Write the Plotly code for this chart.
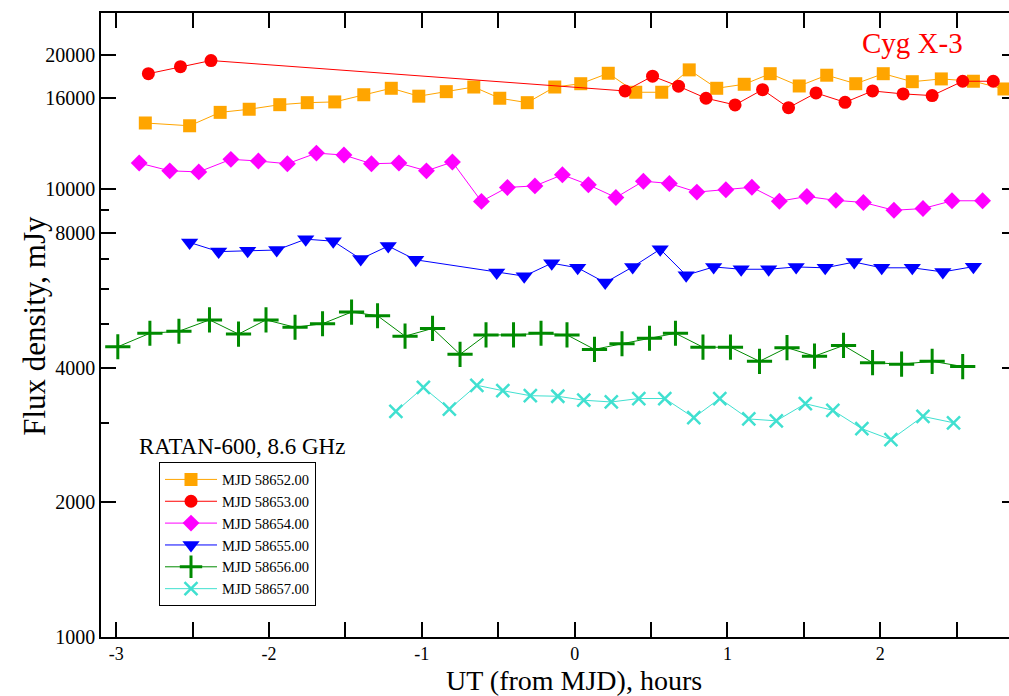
import plotly.graph_objects as go

# ---- data ----
x_58652 = [-2.81, -2.52, -2.32, -2.13, -1.93, -1.75, -1.57, -1.38, -1.20, -1.02, -0.84, -0.66, -0.49, -0.31, -0.13,
           0.04, 0.22, 0.40, 0.57, 0.75, 0.93, 1.11, 1.28, 1.47, 1.65, 1.84, 2.02, 2.21, 2.40, 2.61, 2.81]
y_58652 = [14070, 13870, 14860, 15100, 15460, 15620, 15680, 16270, 16820, 16150, 16530, 16930, 15980, 15620, 16930,
           17220, 18170, 16480, 16480, 18490, 16820, 17170, 18130, 17020, 17990, 17220, 18130, 17400, 17650, 17440, 16760]

x_58653 = [-2.79, -2.58, -2.38, 0.33, 0.51, 0.68, 0.86, 1.05, 1.23, 1.40, 1.58, 1.77, 1.95, 2.15, 2.34, 2.54, 2.74]
y_58653 = [18130, 18800, 19400, 16590, 17900, 17000, 15980, 15440, 16700, 15220, 16420, 15650, 16590, 16340, 16200,
           17440, 17440]

x_58654 = [-2.85, -2.65, -2.46, -2.25, -2.07, -1.88, -1.69, -1.51, -1.33, -1.15, -0.97, -0.80, -0.61, -0.44, -0.26,
           -0.08, 0.09, 0.27, 0.45, 0.62, 0.80, 0.99, 1.16, 1.34, 1.52, 1.71, 1.89, 2.09, 2.28, 2.47, 2.67]
y_58654 = [11450, 11000, 10940, 11670, 11570, 11410, 12050, 11930, 11410, 11450, 11000, 11510, 9400, 10100, 10180,
           10780, 10240, 9590, 10430, 10310, 9860, 9980, 10110, 9410, 9640, 9450, 9350, 8980, 9060, 9430, 9430]

x_58655 = [-2.52, -2.33, -2.14, -1.95, -1.76, -1.58, -1.40, -1.22, -1.04, -0.51, -0.33, -0.15, 0.02, 0.20, 0.38,
           0.56, 0.73, 0.91, 1.09, 1.27, 1.45, 1.64, 1.83, 2.01, 2.21, 2.41, 2.61]
y_58655 = [7610, 7260, 7290, 7320, 7740, 7660, 6990, 7470, 6960, 6520, 6400, 6840, 6680, 6190, 6710,
           7350, 6430, 6710, 6630, 6630, 6710, 6680, 6880, 6680, 6680, 6540, 6720]

x_58656 = [-2.99, -2.78, -2.59, -2.39, -2.20, -2.02, -1.83, -1.65, -1.46, -1.29, -1.11, -0.93, -0.75, -0.58, -0.40,
           -0.22, -0.05, 0.13, 0.31, 0.49, 0.66, 0.84, 1.02, 1.21, 1.39, 1.57, 1.76, 1.95, 2.14, 2.34, 2.54]
y_58656 = [4450, 4770, 4820, 5110, 4750, 5110, 4920, 5010, 5320, 5220, 4700, 4890, 4280, 4730, 4730,
           4770, 4730, 4390, 4520, 4650, 4770, 4440, 4440, 4130, 4430, 4240, 4480, 4100, 4070, 4130, 4020]

x_58657 = [-1.17, -0.99, -0.82, -0.64, -0.47, -0.29, -0.11, 0.06, 0.24, 0.42, 0.59, 0.78, 0.95, 1.14, 1.32,
           1.51, 1.69, 1.88, 2.07, 2.28, 2.48]
y_58657 = [3190, 3610, 3230, 3650, 3550, 3460, 3450, 3380, 3350, 3410, 3410, 3090, 3410, 3070, 3040,
           3320, 3210, 2920, 2760, 3110, 3010]

y_tickvals = [1000, 2000, 4000, 8000, 10000, 16000, 20000]
y_minor = [3000, 5000, 6000, 7000, 9000]
x_tickvals = [-3, -2, -1, 0, 1, 2]
x_minor = [-2.5, -1.5, -0.5, 0.5, 1.5, 2.5]

FONT = "Liberation Serif"

series = [
    ("MJD 58652.00", x_58652, y_58652, "#FFA500", dict(symbol="square", size=13)),
    ("MJD 58653.00", x_58653, y_58653, "#FF0000", dict(symbol="circle", size=13)),
    ("MJD 58654.00", x_58654, y_58654, "#FF00FF", dict(symbol="diamond", size=13)),
    ("MJD 58655.00", x_58655, y_58655, "#0000FF", dict(symbol="triangle-down", size=15)),
    ("MJD 58656.00", x_58656, y_58656, "#008A00", dict(symbol="cross-thin", size=18, line=dict(width=3, color="#008A00"))),
    ("MJD 58657.00", x_58657, y_58657, "#40E0D0", dict(symbol="x-thin", size=13, line=dict(width=2.5, color="#40E0D0"))),
]

fig = go.Figure()
for name, xs, ys, col, mk in series:
    m = dict(color=col)
    m.update(mk)
    fig.add_trace(go.Scatter(x=xs, y=ys, mode="lines+markers", name=name,
                             line=dict(color=col, width=1), marker=m))

# dummy trace for right-side tick axis
fig.add_trace(go.Scatter(x=[None], y=[None], yaxis="y2", showlegend=False, hoverinfo="skip"))

PLOT_L, PLOT_W, PLOT_B, PLOT_H = 101, 908, 637.3, 624.3

def px(xp):
    return (xp - PLOT_L) / PLOT_W

def py(yp):
    return (PLOT_B - yp) / PLOT_H

minor_style = dict(ticks="inside", ticklen=8, tickwidth=1.5, tickcolor="black", showgrid=False)

fig.update_layout(
    width=1009, height=696,
    margin=dict(l=101, r=0, t=13, b=59),
    paper_bgcolor="white", plot_bgcolor="white",
    font=dict(family=FONT, color="black", size=20),
    showlegend=True,
    legend=dict(x=px(159), y=py(462.7), xanchor="left", yanchor="top",
                bgcolor="white", bordercolor="black", borderwidth=1,
                font=dict(family=FONT, size=14.5, color="black"),
                itemwidth=52, tracegroupgap=0),
    xaxis=dict(range=[-3.1, 2.843], showgrid=False, zeroline=False,
               showline=True, linecolor="black", linewidth=1.5, mirror="allticks",
               ticks="inside", ticklen=15, tickwidth=1.5, tickcolor="black",
               tickmode="array", tickvals=x_tickvals, ticktext=[str(v) for v in x_tickvals],
               tickfont=dict(family=FONT, size=18),
               minor=dict(tickmode="array", tickvals=x_minor, **minor_style)),
    yaxis=dict(type="log", range=[3, 4.394], showgrid=False, zeroline=False,
               showline=True, linecolor="black", linewidth=1.5, mirror=False,
               ticks="inside", ticklen=15, tickwidth=1.5, tickcolor="black",
               tickmode="array", tickvals=y_tickvals, ticktext=[str(v) for v in y_tickvals],
               tickfont=dict(family=FONT, size=20),
               minor=dict(tickmode="array", tickvals=y_minor, **minor_style)),
    yaxis2=dict(type="log", range=[3, 4.394], overlaying="y", side="right", showgrid=False,
                zeroline=False, showline=False, ticks="inside", ticklen=7, tickwidth=1.5,
                tickcolor="black", tickmode="array", tickvals=y_tickvals, showticklabels=False),
)

# axis titles as annotations for precise placement
fig.add_annotation(text="UT (from MJD), hours", xref="paper", yref="paper",
                   x=px(574), y=py(698), xanchor="center", yanchor="bottom",
                   showarrow=False, font=dict(family=FONT, size=28, color="black"))
fig.add_annotation(text="Flux density, mJy", xref="paper", yref="paper",
                   x=px(35), y=py(326), xanchor="center", yanchor="middle", textangle=-90,
                   showarrow=False, font=dict(family=FONT, size=31, color="black"))

fig.add_annotation(text="Cyg X-3", xref="paper", yref="paper",
                   x=px(912), y=py(43), xanchor="center", yanchor="middle",
                   showarrow=False, font=dict(family=FONT, size=29, color="#FF0000"))
fig.add_annotation(text="RATAN-600, 8.6 GHz", xref="paper", yref="paper",
                   x=px(137), y=py(447), xanchor="left", yanchor="middle",
                   showarrow=False, font=dict(family=FONT, size=23, color="black"))

fig.write_html("out.html")
